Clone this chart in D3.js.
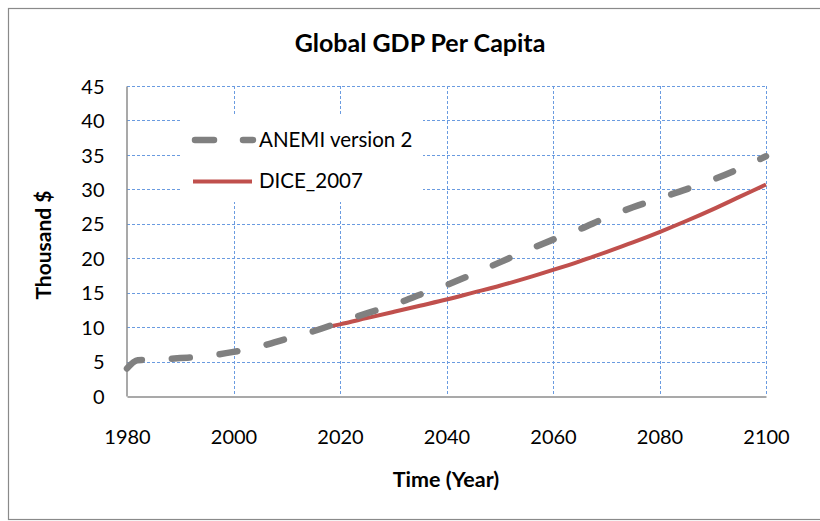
<!DOCTYPE html>
<html>
<head>
<meta charset="utf-8">
<script src="https://cdn.jsdelivr.net/npm/d3@7"></script>
<style>
  html, body { margin: 0; padding: 0; background: #fff; }
  svg { display: block; font-family: Lato, "Open Sans", sans-serif; }
</style>
</head>
<body>
<svg id="chart" width="820" height="521"></svg>
<script>
// Global GDP per capita (thousand $), two model runs
const anemiYears  = [1980, 1982, 1985, 1990, 1995, 2000, 2005, 2010, 2015, 2020, 2025, 2030, 2035, 2040, 2045, 2050, 2055, 2060, 2065, 2070, 2075, 2080, 2085, 2090, 2095, 2100];
const anemiValues = [4.0, 5.2, 5.25, 5.5, 5.8, 6.4, 7.2, 8.3, 9.4, 10.7, 12.0, 13.2, 14.7, 16.1, 17.7, 19.4, 21.1, 22.7, 24.2, 25.9, 27.4, 28.7, 30.0, 31.4, 33.0, 34.8];

const diceYears  = [2015, 2020, 2025, 2030, 2035, 2040, 2045, 2050, 2055, 2060, 2065, 2070, 2075, 2080, 2085, 2090, 2095, 2100];
const diceValues = [9.6, 10.4, 11.3, 12.2, 13.1, 14.0, 15.0, 16.0, 17.1, 18.3, 19.55, 20.9, 22.3, 23.8, 25.4, 27.1, 28.9, 30.7];

const xTicks = [1980, 2000, 2020, 2040, 2060, 2080, 2100];
const yTicks = [0, 5, 10, 15, 20, 25, 30, 35, 40, 45];

const seriesNames = ["ANEMI version 2", "DICE_2007"];
const titleText = "Global GDP Per Capita";
const xTitle = "Time (Year)";
const yTitle = "Thousand $";

const svg = d3.select("#chart");
const margin = { left: 127, right: 766, top: 86, bottom: 396 };

const x = d3.scaleLinear().domain([1980, 2100]).range([margin.left, margin.right]);
const y = d3.scaleLinear().domain([0, 45]).range([margin.bottom, margin.top]);

const gridColor = "#6a9be0";
const axisColor = "#8c8c8c";
const textColor = "#000";

// outer frame
svg.append("rect")
  .attr("x", 8.5).attr("y", 8.5)
  .attr("width", 830).attr("height", 511)
  .attr("fill", "#fff")
  .attr("stroke", "#8a8a8a").attr("stroke-width", 1.2);

// title
svg.append("text")
  .attr("x", 420).attr("y", 52)
  .attr("text-anchor", "middle")
  .attr("font-size", 25).attr("font-weight", 700)
  .attr("fill", textColor)
  .text(titleText);

// gridlines
const grid = svg.append("g");
grid.selectAll("line.h")
  .data(yTicks.filter(d => d > 0))
  .join("line")
  .attr("x1", margin.left).attr("x2", margin.right)
  .attr("y1", d => Math.round(y(d)) + 0.5).attr("y2", d => Math.round(y(d)) + 0.5)
  .attr("stroke", gridColor).attr("stroke-width", 1)
  .attr("stroke-dasharray", "3,2");
grid.selectAll("line.v")
  .data(xTicks.filter(d => d > 1980))
  .join("line")
  .attr("x1", d => Math.round(x(d)) + 0.5).attr("x2", d => Math.round(x(d)) + 0.5)
  .attr("y1", margin.top).attr("y2", margin.bottom)
  .attr("stroke", gridColor).attr("stroke-width", 1)
  .attr("stroke-dasharray", "3,2");

// axes
const xAxis = d3.axisBottom(x).tickValues(xTicks).tickSize(0).tickPadding(0).tickFormat(d3.format("d"));
const yAxis = d3.axisLeft(y).tickValues(yTicks).tickSize(0).tickPadding(0);

const gx = svg.append("g").attr("transform", `translate(0,${margin.bottom + 0.5})`).call(xAxis);
gx.select(".domain").attr("stroke", axisColor).attr("stroke-width", 1.5);
gx.selectAll("text")
  .attr("y", 0).attr("dy", null)
  .attr("transform", "translate(0,47)")
  .attr("font-size", 20).attr("font-family", "Lato, sans-serif").attr("fill", textColor);

const gy = svg.append("g").attr("transform", `translate(${margin.left - 0.5},0)`).call(yAxis);
gy.select(".domain").attr("stroke", axisColor).attr("stroke-width", 1.5);
gy.selectAll("text")
  .attr("x", -22).attr("dy", "0.36em")
  .attr("font-size", 20).attr("font-family", "Lato, sans-serif").attr("fill", textColor);

// axis titles
svg.append("text")
  .attr("x", 446).attr("y", 487)
  .attr("text-anchor", "middle")
  .attr("font-size", 21.5).attr("font-weight", 700).attr("fill", textColor)
  .text(xTitle);
svg.append("text")
  .attr("transform", "translate(51,245) rotate(-90)")
  .attr("text-anchor", "middle")
  .attr("font-size", 21).attr("font-weight", 700).attr("fill", textColor)
  .text(yTitle);

// legend box (white panel over gridlines)
const legend = svg.append("g");
legend.append("rect")
  .attr("x", 180).attr("y", 114).attr("width", 243).attr("height", 88)
  .attr("fill", "#fff");

// series lines
const line = d3.line().x(d => x(d[0])).y(d => y(d[1])).curve(d3.curveMonotoneX);

const anemiData = anemiYears.map((yr, i) => [yr, anemiValues[i]]);
const diceData  = diceYears.map((yr, i) => [yr, diceValues[i]]);

svg.append("path")
  .datum(diceData)
  .attr("d", line)
  .attr("fill", "none")
  .attr("stroke", "#c0504d").attr("stroke-width", 4);

svg.append("path")
  .datum(anemiData)
  .attr("d", line)
  .attr("fill", "none")
  .attr("stroke", "#808080").attr("stroke-width", 6.5)
  .attr("stroke-linecap", "round")
  .attr("stroke-dasharray", "18,30");

// legend entries
legend.append("line")
  .attr("x1", 195).attr("x2", 253).attr("y1", 140).attr("y2", 140)
  .attr("stroke", "#808080").attr("stroke-width", 6.5)
  .attr("stroke-linecap", "round").attr("stroke-dasharray", "19,29");
legend.append("text")
  .attr("x", 259).attr("y", 147)
  .attr("font-size", 20.5).attr("fill", textColor)
  .text(seriesNames[0]);

legend.append("line")
  .attr("x1", 193).attr("x2", 252).attr("y1", 181.5).attr("y2", 181.5)
  .attr("stroke", "#c0504d").attr("stroke-width", 4);
legend.append("text")
  .attr("x", 259).attr("y", 188)
  .attr("font-size", 20.5).attr("fill", textColor)
  .text(seriesNames[1]);
</script>
</body>
</html>
